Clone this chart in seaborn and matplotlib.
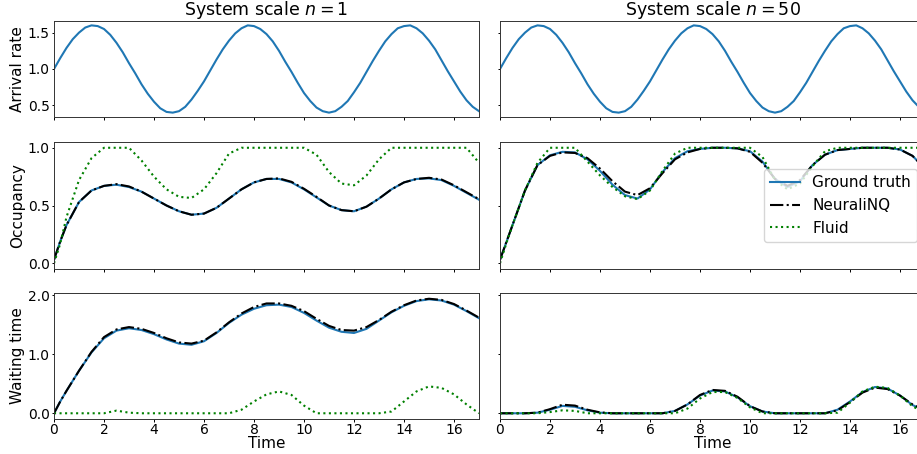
# import libraries
import pandas as pd
import numpy as np
import seaborn as sns
import matplotlib.pyplot as plt
from matplotlib.ticker import FormatStrFormatter

# time grid for the arrival rate (finer, the curve is smooth)
arrival_time = [0.0, 0.25, 0.5, 0.75, 1.0, 1.25, 1.5, 1.75, 2.0, 2.25, 2.5, 2.75,
                3.0, 3.25, 3.5, 3.75, 4.0, 4.25, 4.5, 4.75, 5.0, 5.25, 5.5, 5.75,
                6.0, 6.25, 6.5, 6.75, 7.0, 7.25, 7.5, 7.75, 8.0, 8.25, 8.5, 8.75,
                9.0, 9.25, 9.5, 9.75, 10.0, 10.25, 10.5, 10.75, 11.0, 11.25, 11.5, 11.75,
                12.0, 12.25, 12.5, 12.75, 13.0, 13.25, 13.5, 13.75, 14.0, 14.25, 14.5, 14.75,
                15.0, 15.25, 15.5, 15.75, 16.0, 16.25, 16.5, 16.75, 17.0]
arrival = [1.00, 1.15, 1.29, 1.41, 1.50, 1.57, 1.60, 1.59, 1.55, 1.47, 1.36, 1.23,
           1.08, 0.94, 0.79, 0.66, 0.55, 0.46, 0.41, 0.40, 0.42, 0.48, 0.58, 0.70,
           0.83, 0.98, 1.13, 1.27, 1.39, 1.49, 1.56, 1.60, 1.59, 1.55, 1.48, 1.38,
           1.25, 1.10, 0.96, 0.81, 0.67, 0.56, 0.47, 0.42, 0.40, 0.42, 0.48, 0.56,
           0.68, 0.81, 0.96, 1.11, 1.25, 1.38, 1.48, 1.56, 1.59, 1.60, 1.56, 1.49,
           1.39, 1.27, 1.12, 0.97, 0.83, 0.69, 0.57, 0.48, 0.42]

# time grid shared by the occupancy / waiting time series
time = [0.0, 0.25, 0.5, 1.0, 1.5, 2.0, 2.5, 3.0, 3.5, 4.0, 4.5, 5.0, 5.5, 6.0,
        6.5, 7.0, 7.5, 8.0, 8.5, 9.0, 9.5, 10.0, 10.5, 11.0, 11.5, 12.0, 12.5,
        13.0, 13.5, 14.0, 14.5, 15.0, 15.5, 16.0, 16.5, 17.0]

# occupancy, n = 1
occ_gt_n1 = [0.03, 0.19, 0.33, 0.53, 0.63, 0.67, 0.68, 0.66, 0.62, 0.56, 0.50, 0.45,
             0.42, 0.43, 0.48, 0.56, 0.64, 0.70, 0.73, 0.73, 0.70, 0.64, 0.57, 0.50,
             0.46, 0.45, 0.49, 0.56, 0.64, 0.70, 0.73, 0.735, 0.72, 0.67, 0.61, 0.55]
occ_nn_n1 = [0.03, 0.19, 0.33, 0.53, 0.63, 0.67, 0.685, 0.665, 0.62, 0.56, 0.50, 0.45,
             0.42, 0.43, 0.48, 0.56, 0.64, 0.70, 0.73, 0.735, 0.705, 0.645, 0.575, 0.50,
             0.46, 0.45, 0.49, 0.56, 0.64, 0.70, 0.73, 0.74, 0.725, 0.675, 0.615, 0.555]
occ_fl_n1 = [0.00, 0.17, 0.40, 0.72, 0.91, 1.00, 1.00, 1.00, 0.89, 0.75, 0.64, 0.575,
             0.565, 0.64, 0.78, 0.95, 1.00, 1.00, 1.00, 1.00, 1.00, 1.00, 0.94, 0.79,
             0.69, 0.675, 0.76, 0.90, 1.00, 1.00, 1.00, 1.00, 1.00, 1.00, 1.00, 0.87]

# occupancy, n = 50
occ_gt_n50 = [0.03, 0.18, 0.33, 0.63, 0.85, 0.935, 0.965, 0.96, 0.90, 0.80, 0.68, 0.59,
              0.56, 0.64, 0.79, 0.91, 0.97, 0.99, 1.00, 1.00, 0.995, 0.97, 0.88, 0.73,
              0.66, 0.71, 0.85, 0.94, 0.98, 0.99, 1.00, 1.00, 1.00, 0.985, 0.93, 0.82]
occ_nn_n50 = [0.03, 0.18, 0.33, 0.63, 0.85, 0.93, 0.96, 0.955, 0.91, 0.82, 0.71, 0.62,
              0.59, 0.65, 0.78, 0.90, 0.96, 0.99, 1.00, 1.00, 0.995, 0.965, 0.87, 0.73,
              0.67, 0.72, 0.85, 0.94, 0.98, 0.99, 1.00, 1.00, 1.00, 0.985, 0.93, 0.82]
occ_fl_n50 = [0.00, 0.17, 0.33, 0.63, 0.87, 1.00, 1.00, 1.00, 0.88, 0.76, 0.66, 0.58,
              0.555, 0.63, 0.80, 0.95, 1.00, 1.00, 1.00, 1.00, 1.00, 1.00, 0.92, 0.72,
              0.64, 0.69, 0.84, 0.97, 1.00, 1.00, 1.00, 1.00, 1.00, 1.00, 1.00, 1.00]

# waiting time, n = 1
wait_gt_n1 = [0.00, 0.20, 0.38, 0.72, 1.03, 1.27, 1.40, 1.44, 1.41, 1.34, 1.25, 1.18,
              1.16, 1.22, 1.36, 1.53, 1.67, 1.77, 1.83, 1.84, 1.80, 1.70, 1.57, 1.45,
              1.38, 1.36, 1.43, 1.57, 1.71, 1.82, 1.90, 1.93, 1.91, 1.84, 1.73, 1.61]
wait_nn_n1 = [0.00, 0.20, 0.38, 0.72, 1.04, 1.29, 1.42, 1.46, 1.43, 1.36, 1.27, 1.20,
              1.18, 1.23, 1.37, 1.54, 1.69, 1.80, 1.86, 1.86, 1.82, 1.73, 1.60, 1.48,
              1.41, 1.40, 1.46, 1.58, 1.72, 1.83, 1.91, 1.94, 1.92, 1.85, 1.74, 1.62]
wait_fl_n1 = [0.00, 0.00, 0.00, 0.00, 0.00, 0.00, 0.045, 0.01, 0.00, 0.00, 0.00, 0.00,
              0.00, 0.00, 0.00, 0.00, 0.06, 0.20, 0.32, 0.37, 0.31, 0.13, 0.00, 0.00,
              0.00, 0.00, 0.00, 0.00, 0.03, 0.20, 0.37, 0.455, 0.43, 0.32, 0.15, 0.00]

# waiting time, n = 50
wait_gt_n50 = [0.00, 0.00, 0.00, 0.00, 0.01, 0.06, 0.125, 0.11, 0.05, 0.01, 0.00, 0.00,
               0.00, 0.00, 0.00, 0.04, 0.15, 0.30, 0.385, 0.37, 0.27, 0.12, 0.03, 0.00,
               0.00, 0.00, 0.00, 0.00, 0.06, 0.20, 0.36, 0.445, 0.42, 0.30, 0.14, 0.04]
wait_nn_n50 = [0.00, 0.00, 0.00, 0.00, 0.01, 0.07, 0.145, 0.13, 0.06, 0.015, 0.00, 0.00,
               0.00, 0.00, 0.00, 0.04, 0.15, 0.31, 0.395, 0.38, 0.28, 0.12, 0.03, 0.00,
               0.00, 0.00, 0.00, 0.00, 0.05, 0.19, 0.35, 0.435, 0.41, 0.30, 0.15, 0.05]
wait_fl_n50 = [0.00, 0.00, 0.00, 0.00, 0.00, 0.02, 0.05, 0.04, 0.00, 0.00, 0.00, 0.00,
               0.00, 0.00, 0.00, 0.00, 0.08, 0.25, 0.36, 0.36, 0.26, 0.10, 0.00, 0.00,
               0.00, 0.00, 0.00, 0.00, 0.01, 0.18, 0.37, 0.45, 0.43, 0.30, 0.12, 0.00]

methods = ['Ground truth', 'NeuraliNQ', 'Fluid']
row_labels = ['Arrival rate', 'Occupancy', 'Waiting time']
scales = [1, 50]

occupancy = {1: [occ_gt_n1, occ_nn_n1, occ_fl_n1], 50: [occ_gt_n50, occ_nn_n50, occ_fl_n50]}
waiting = {1: [wait_gt_n1, wait_nn_n1, wait_fl_n1], 50: [wait_gt_n50, wait_nn_n50, wait_fl_n50]}

styles = {'Ground truth': dict(color='tab:blue', linestyle='-'),
          'NeuraliNQ': dict(color='black', linestyle='-.'),
          'Fluid': dict(color='green', linestyle=':')}

fig, axes = plt.subplots(3, 2, figsize=(9.17, 4.54), dpi=100, sharex=True, sharey='row')

# place panels like the reference (pixel boxes / figure size)
W, H = 917, 454
cols_x = [54, 500]
rows_y = [(21, 117), (142, 269), (293, 419)]
for r, (y0, y1) in enumerate(rows_y):
    for c, x0 in enumerate(cols_x):
        axes[r, c].set_position([x0 / W, 1 - y1 / H, 425 / W, (y1 - y0) / H])

for c, n in enumerate(scales):
    ax = axes[0, c]
    sns.lineplot(x=arrival_time, y=arrival, ax=ax, color='tab:blue', lw=1.5)
    ax.set_title(f'System scale $n = {n}$', fontsize=12.5, pad=3)

    for series, m in zip(occupancy[n], methods):
        sns.lineplot(x=time, y=series, ax=axes[1, c], lw=1.5, **styles[m])
    for series, m in zip(waiting[n], methods):
        sns.lineplot(x=time, y=series, ax=axes[2, c], lw=1.5, **styles[m])

    axes[2, c].set_xlabel('Time', fontsize=11, labelpad=-1)

for r, lab in enumerate(row_labels):
    axes[r, 0].set_ylabel(lab, fontsize=11, labelpad=2)

axes[0, 0].set_yticks([0.5, 1.0, 1.5])
axes[1, 0].set_yticks([0.0, 0.5, 1.0])
axes[2, 0].set_yticks([0.0, 1.0, 2.0])
axes[2, 0].yaxis.set_major_formatter(FormatStrFormatter('%.1f'))
axes[2, 0].set_xlim(0, 17)
axes[2, 0].set_xticks(range(0, 17, 2))

for ax in axes.flat:
    ax.tick_params(labelsize=10, length=1.8, width=0.7, pad=1.2)
    for sp in ax.spines.values():
        sp.set_linewidth(0.7)
        sp.set_color('#333333')

# legend on the n = 50 occupancy panel
leg_ax = axes[1, 1]
leg_ax.legend(handles=leg_ax.get_lines()[:3], labels=methods,
              loc='center right', fontsize=11)

plt.savefig('out.png', dpi=100)
